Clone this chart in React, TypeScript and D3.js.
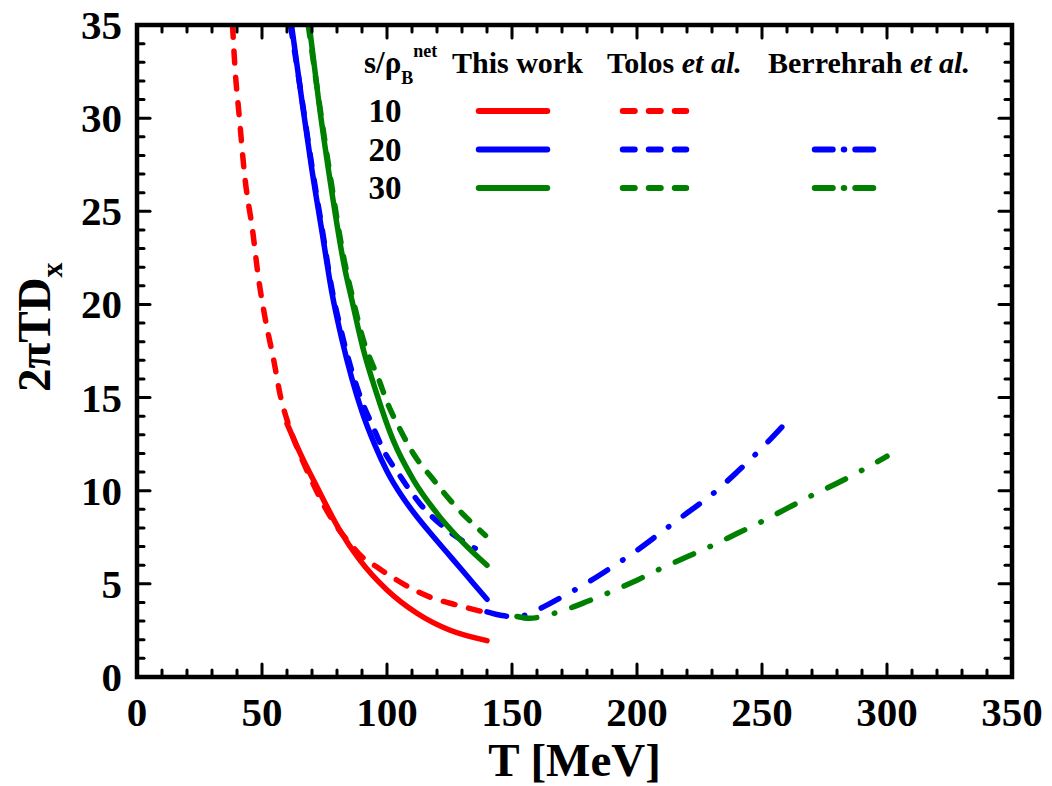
import React from "react";
import * as d3 from "d3";

// ---- data (T in MeV, value 2πTDx) ----
const thisWork10T = [60, 66, 72, 81, 89, 100, 112, 125, 140];
const thisWork10V = [13.6, 11.8, 10.2, 7.9, 6.3, 4.67, 3.42, 2.52, 1.95];

const thisWork20T = [61.8, 66, 70, 74, 78, 82, 86, 90, 95, 100, 106, 112, 118, 124, 130, 135, 140];
const thisWork20V = [35, 30.9, 27.2, 23.9, 20.6, 18.1, 16.0, 14.25, 12.5, 11.05, 9.7, 8.6, 7.62, 6.68, 5.74, 4.95, 4.17];

const thisWork30T = [68.9, 72.6, 77.4, 83, 86, 90.3, 95.9, 102.5, 110.5, 119.9, 130.5, 140];
const thisWork30V = [35, 31, 26.5, 22, 20.2, 17.7, 15.2, 12.7, 10.6, 8.8, 7.2, 6.0];

const tolos10T = [38.2, 39.3, 40.9, 43, 46.4, 48.5, 51.2, 54.7, 57.5, 60, 65, 70, 75, 80, 85, 90, 96, 101, 106.5, 117, 128, 140];
const tolos10V = [35, 32.5, 30.1, 27, 23.8, 21.5, 19.3, 17, 15, 13.8, 12.0, 10.5, 9.15, 8.05, 7.2, 6.45, 5.9, 5.45, 5.0, 4.3, 3.86, 3.45];

const tolos20T = [61.4, 66, 70, 74, 78, 82, 86, 90, 94.5, 98.5, 105.2, 113.2, 122.5, 135.3];
const tolos20V = [35, 31.0, 27.4, 24.1, 20.8, 18.4, 16.4, 14.8, 13.4, 12.2, 10.8, 9.3, 8.07, 6.9];

const tolos30T = [68.5, 72.5, 77.4, 83, 86, 90.3, 97.2, 99.9, 105.2, 110.5, 118.5, 126.5, 139.4];
const tolos30V = [35, 31.2, 26.8, 22.3, 20.5, 18.2, 15.8, 14.8, 13.3, 12.0, 10.6, 9.3, 7.6];

const berr20T = [140, 146, 152, 160, 170, 180, 190, 200, 210, 220, 230, 240, 250, 258.5];
const berr20V = [3.5, 3.3, 3.23, 3.6, 4.3, 5.05, 5.9, 6.8, 7.8, 8.8, 9.8, 11.0, 12.3, 13.5];

const berr30T = [152, 157, 165, 170, 180, 190, 200, 210, 220, 230, 240, 250, 260, 270, 280, 290, 300];
const berr30V = [3.25, 3.15, 3.35, 3.55, 4.05, 4.6, 5.2, 5.85, 6.45, 7.05, 7.7, 8.35, 9.05, 9.75, 10.4, 11.1, 11.85];

const xTicks = [0, 50, 100, 150, 200, 250, 300, 350];
const yTicks = [0, 5, 10, 15, 20, 25, 30, 35];
const legendRows = ["10", "20", "30"];

const RED = "#ff0000";
const BLUE = "#0000ff";
const GREEN = "#008000";

const W = 1052;
const H = 786;
const L = 137, R = 1012, T = 25, B = 677;

const x = d3.scaleLinear().domain([0, 350]).range([L, R]);
const y = d3.scaleLinear().domain([0, 35]).range([B, T]);

const FONT = "'Liberation Serif', 'Times New Roman', Times, serif";

function zip(ts: number[], vs: number[]): [number, number][] {
  return ts.map((t, i) => [t, vs[i]]);
}

const lineGen = d3
  .line<[number, number]>()
  .x((d) => x(d[0]))
  .y((d) => y(d[1]))
  .curve(d3.curveMonotoneX);

const DASH = "12,14";
const DASHDOT = "20,18,0.5,18";

const series = [
  { data: zip(tolos10T, tolos10V), color: RED, dash: DASH },
  { data: zip(tolos20T, tolos20V), color: BLUE, dash: DASH },
  { data: zip(tolos30T, tolos30V), color: GREEN, dash: DASH },
  { data: zip(berr20T, berr20V), color: BLUE, dash: DASHDOT },
  { data: zip(berr30T, berr30V), color: GREEN, dash: DASHDOT },
  { data: zip(thisWork10T, thisWork10V), color: RED, dash: null },
  { data: zip(thisWork20T, thisWork20V), color: BLUE, dash: null },
  { data: zip(thisWork30T, thisWork30V), color: GREEN, dash: null },
];

export default function App() {
  const xMinor = d3.range(0, 351, 10);
  const yMinor = d3.range(0, 36, 1);
  const legendY = [111, 149.5, 188];
  const legendColors = [RED, BLUE, GREEN];
  return (
    <svg
      width={W}
      height={H}
      style={{ position: "absolute", left: 0, top: 0, display: "block", background: "#fff" }}
      fontFamily={FONT}
      fontWeight="bold"
    >
      <defs>
        <clipPath id="plotclip">
          <rect x={L} y={T} width={R - L} height={B - T} />
        </clipPath>
      </defs>
      {/* series */}
      <g clipPath="url(#plotclip)">
        {series.map((s, i) => (
          <path
            key={i}
            d={lineGen(s.data) || ""}
            fill="none"
            stroke={s.color}
            strokeWidth={5.5}
            strokeLinecap="round"
            strokeLinejoin="round"
            strokeDasharray={s.dash || undefined}
          />
        ))}
      </g>
      {/* ticks */}
      <g stroke="#000" strokeWidth={3} strokeLinecap="round">
        {xMinor.map((v) => {
          const major = v % 50 === 0;
          const len = major ? 13 : 7;
          return (
            <g key={"xt" + v}>
              <line x1={x(v)} x2={x(v)} y1={B} y2={B - len} />
              <line x1={x(v)} x2={x(v)} y1={T} y2={T + len} />
            </g>
          );
        })}
        {yMinor.map((v) => {
          const major = v % 5 === 0;
          const len = major ? 13 : 7;
          return (
            <g key={"yt" + v}>
              <line x1={L} x2={L + len} y1={y(v)} y2={y(v)} />
              <line x1={R} x2={R - len} y1={y(v)} y2={y(v)} />
            </g>
          );
        })}
      </g>
      {/* frame */}
      <rect x={L} y={T} width={R - L} height={B - T} fill="none" stroke="#000" strokeWidth={4.5} />
      {/* tick labels */}
      {xTicks.map((v) => (
        <text key={"xl" + v} x={x(v)} y={726} textAnchor="middle" fontSize={41}>
          {v}
        </text>
      ))}
      {yTicks.map((v) => (
        <text key={"yl" + v} x={122} y={y(v)} textAnchor="end" dominantBaseline="central" fontSize={41}>
          {v}
        </text>
      ))}
      {/* axis titles */}
      <text x={(L + R) / 2} y={776} textAnchor="middle" fontSize={47}>
        T [MeV]
      </text>
      <text transform="translate(50,392) rotate(-90)" fontSize={47}>
        2πTD
        <tspan fontSize={30} dy={12}>x</tspan>
      </text>
      {/* legend header */}
      <text x={364} y={73} fontSize={31}>
        s/ρ
        <tspan fontSize={18} dy={11}>B</tspan>
        <tspan fontSize={18} dy={-27} dx={0}>net</tspan>
      </text>
      <text x={452} y={73} fontSize={30}>This work</text>
      <text x={607} y={73} fontSize={30}>
        Tolos <tspan fontStyle="italic">et al.</tspan>
      </text>
      <text x={768} y={73} fontSize={30}>
        Berrehrah <tspan fontStyle="italic">et al.</tspan>
      </text>
      {legendRows.map((lab, i) => (
        <g key={"lg" + lab}>
          <text x={385} y={legendY[i]} textAnchor="middle" dominantBaseline="central" fontSize={33}>
            {lab}
          </text>
          <line x1={478.75} x2={547.25} y1={legendY[i]} y2={legendY[i]} stroke={legendColors[i]} strokeWidth={6} strokeLinecap="round" />
          <line x1={622.75} x2={686.25} y1={legendY[i]} y2={legendY[i]} stroke={legendColors[i]} strokeWidth={6} strokeLinecap="round" strokeDasharray="12,14" />
          {i > 0 && (
            <line x1={814.75} x2={880.25} y1={legendY[i]} y2={legendY[i]} stroke={legendColors[i]} strokeWidth={6} strokeLinecap="round" strokeDasharray="18,11,0.5,11" />
          )}
        </g>
      ))}
    </svg>
  );
}
